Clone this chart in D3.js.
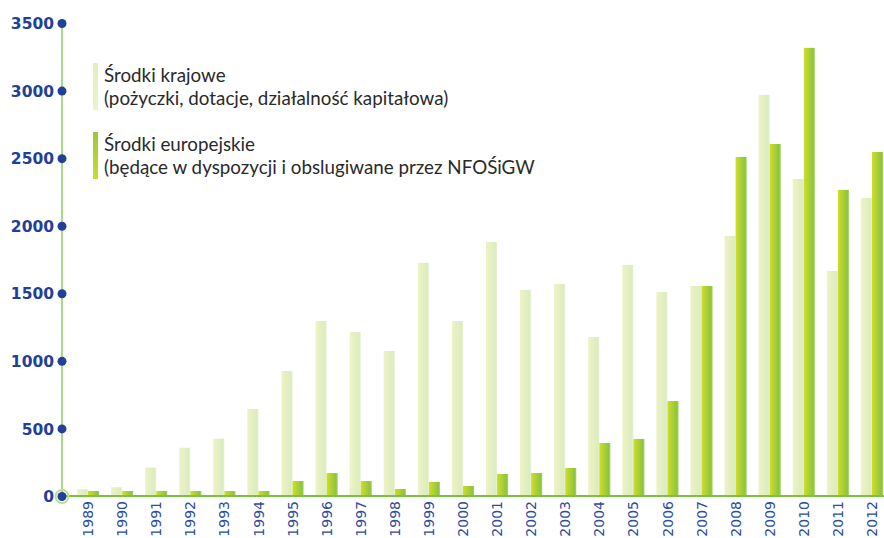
<!DOCTYPE html>
<html>
<head>
<meta charset="utf-8">
<script src="https://cdn.jsdelivr.net/npm/d3@7"></script>
<style>
    body { margin: 0; background: #fff; }
    svg { display: block; }
</style>
</head>
<body>
<svg id="chart" width="884" height="538"></svg>
<script>
// dane (mln zł)
var years = ["1989", "1990", "1991", "1992", "1993", "1994", "1995", "1996", "1997", "1998", "1999", "2000",
    "2001", "2002", "2003", "2004", "2005", "2006", "2007", "2008", "2009", "2010", "2011", "2012"];
var krajowe = [50, 65, 210, 357, 424, 644, 925, 1295, 1214, 1073, 1725, 1295,
    1880, 1525, 1569, 1177, 1710, 1510, 1554, 1925, 2968, 2346, 1665, 2206];
var europejskie = [37, 37, 37, 37, 37, 37, 111, 170, 111, 52, 104, 74,
    163, 170, 207, 392, 422, 703, 1554, 2509, 2605, 3316, 2265, 2546];
var yTicks = [0, 500, 1000, 1500, 2000, 2500, 3000, 3500];
var legendLines = [
    ["Środki krajowe", "(pożyczki, dotacje, działalność kapitałowa)"],
    ["Środki europejskie", "(będące w dyspozycji i obslugiwane przez NFOŚiGW"]
];

var svg = d3.select("#chart");
var navy = "#22409a";

var defs = svg.append("defs");
function grad(id, stops, vertical) {
    var g = defs.append("linearGradient").attr("id", id)
        .attr("x1", "0").attr("y1", "0")
        .attr("x2", vertical ? "0" : "1").attr("y2", vertical ? "1" : "0");
    stops.forEach(function (s) {
        g.append("stop").attr("offset", s[0]).attr("stop-color", s[1]);
    });
}
grad("gLight", [[0, "#eef3c4"], [0.85, "#dcecc0"], [1, "#e8f2d6"]]);
grad("gDark", [[0, "#cfde2a"], [0.85, "#8ec43e"], [1, "#a8d470"]]);
grad("gLightV", [[0, "#e4efc0"], [1, "#eaf3cc"]], true);
grad("gDarkV", [[0, "#9cc83a"], [1, "#cadc2c"]], true);

var x0 = d3.scaleBand()
    .domain(years)
    .range([71, 889])
    .paddingInner(0.35)
    .paddingOuter(0.175);

var x1 = d3.scaleBand()
    .domain(["k", "e"])
    .range([0, x0.bandwidth()]);

var y = d3.scaleLinear()
    .domain([0, 3500])
    .range([496, 23]);

var axisX = 62;

// bars
var groups = svg.append("g").selectAll("g")
    .data(years)
    .enter().append("g")
    .attr("transform", function (d) { return "translate(" + x0(d) + ",0)"; });

groups.append("rect")
    .attr("x", x1("k"))
    .attr("y", function (d, i) { return y(krajowe[i]); })
    .attr("width", x1.bandwidth())
    .attr("height", function (d, i) { return y(0) - y(krajowe[i]); })
    .attr("fill", "url(#gLight)");

groups.append("rect")
    .attr("x", x1("e"))
    .attr("y", function (d, i) { return y(europejskie[i]); })
    .attr("width", x1.bandwidth())
    .attr("height", function (d, i) { return y(0) - y(europejskie[i]); })
    .attr("fill", "url(#gDark)");

// axes lines
svg.append("line")
    .attr("x1", axisX).attr("x2", axisX)
    .attr("y1", y(3500)).attr("y2", y(0))
    .attr("stroke", "#a9d98b").attr("stroke-width", 2);

svg.append("line")
    .attr("x1", axisX).attr("x2", 884)
    .attr("y1", y(0)).attr("y2", y(0))
    .attr("stroke", "#7cc242").attr("stroke-width", 2);

// y ticks: dots + labels
var yAxis = d3.axisLeft(y).tickValues(yTicks).tickFormat(d3.format("d")).tickSize(0).tickPadding(8);
var gy = svg.append("g")
    .attr("transform", "translate(" + axisX + ",0)")
    .call(yAxis);
gy.select(".domain").remove();
gy.selectAll(".tick text")
    .attr("fill", navy)
    .attr("font-family", "'DejaVu Sans', sans-serif")
    .attr("font-weight", "bold")
    .attr("font-size", 15.5)
    .attr("dy", "0.36em");
gy.selectAll(".tick").filter(function (d) { return d === 0; })
    .append("circle")
    .attr("r", 6.5)
    .attr("fill", "none")
    .attr("stroke", "#b6df95")
    .attr("stroke-width", 2);
gy.selectAll(".tick")
    .append("circle")
    .attr("r", 4.5)
    .attr("fill", navy);

// x labels
var xAxis = d3.axisBottom(x0).tickSize(0).tickPadding(6);
var gx = svg.append("g")
    .attr("transform", "translate(0," + y(0) + ")")
    .call(xAxis);
gx.select(".domain").remove();
gx.selectAll(".tick text")
    .attr("fill", "#2c4ca2")
    .attr("font-family", "'DejaVu Sans', sans-serif")
    .attr("font-size", 14)
    .attr("transform", "rotate(-90)")
    .attr("text-anchor", "end")
    .attr("x", -5)
    .attr("y", 0)
    .attr("dy", "0.36em");

// legend
var legend = svg.append("g");
legendLines.forEach(function (lines, i) {
    var top = 63 + i * 69;
    legend.append("rect")
        .attr("x", 93).attr("y", top)
        .attr("width", 5).attr("height", 47)
        .attr("fill", i === 0 ? "url(#gLightV)" : "url(#gDarkV)");
    lines.forEach(function (t, j) {
        legend.append("text")
            .attr("x", 104)
            .attr("y", top + 19 + j * 23)
            .attr("font-family", "Lato, sans-serif")
            .attr("font-size", 18.8)
            .attr("fill", "#2a2a2a")
            .text(t);
    });
});
</script>
</body>
</html>
